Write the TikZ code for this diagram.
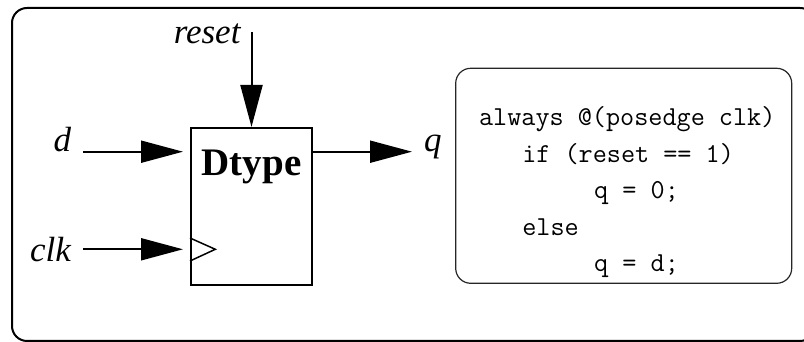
\documentclass[tikz,border=0pt]{standalone}
\usepackage{fontspec}
\setmainfont{Liberation Serif}
\usetikzlibrary{positioning,calc,arrows.meta}

\begin{document}
\begin{tikzpicture}[%
    x=1pt, y=1pt,
    ->,
    >={Triangle[length=42pt,width=22pt]},
    line width=2pt,
    flop/.style={%
      draw,
      minimum width=121pt,
      minimum height=157pt,
      inner sep=0pt},
    sig/.style={%
      font=\fontsize{35}{38}\selectfont\itshape,
      inner sep=0pt},
    codebox/.style={%
      draw=black!85,
      line width=1.2pt,
      rounded corners=15pt,
      minimum width=336pt,
      minimum height=215pt},
    codetext/.style={%
      align=left,
      inner sep=0pt,
      font=\fontsize{27.4}{36.5}\selectfont\ttfamily}
    ]
    \useasboundingbox (0,0) rectangle (804,342);
    % outer frame
    \draw[-, rounded corners=15pt] (12,1) rectangle (815,334);
    % the flip-flop
    \node[flop] (dtype) at (251.5,135.5) {};
    \node[font=\fontsize{39}{42}\selectfont\bfseries, inner sep=0pt,
          anchor=base] (name) at ($(dtype.north)+(0,-49)$) {Dtype};
    \coordinate (din) at ($(dtype.north west)+(0,-24.7)$);
    \coordinate (clkin) at ($(dtype.south west)+(0,36.7)$);
    \coordinate (qout) at (dtype.east |- din);
    \coordinate (rtop) at ($(dtype.north)+(0,95)$);
    \draw[-, line width=1.5pt] ($(clkin)+(0,11.3)$) -- ($(clkin)+(25.3,0)$)
          -- ($(clkin)+(0,-11.7)$);
    % signals
    \node[sig, left=118pt of din, anchor=base east] (d) {d};
    \node[sig, left=118pt of clkin] (clk) {clk};
    \node[sig, below left=12pt and 10pt of rtop, anchor=base east] (reset) {reset};
    \node[sig, right=110pt of qout, anchor=base west] (q) {q};
    \draw[shorten <=11pt, shorten >=7pt] (d.base east) -- (din);
    \draw[shorten <=11pt, shorten >=7pt] (clk) -- (clkin);
    \draw (rtop) -- (dtype.north);
    \draw[shorten >=11pt] (qout) -- (q.base west);
    % the verilog
    \node[codebox] (box) at (623.7,166.2) {};
    \node[codetext, anchor=north west, xshift=23pt, yshift=-38pt]
          (code) at (box.north west) {%
      always @(posedge clk)\\
      \hspace*{43.2pt}if (reset == 1)\\
      \hspace*{115.1pt}q = 0;\\
      \hspace*{43.2pt}else\\
      \hspace*{115.1pt}q = d;};
\end{tikzpicture}
\end{document}
